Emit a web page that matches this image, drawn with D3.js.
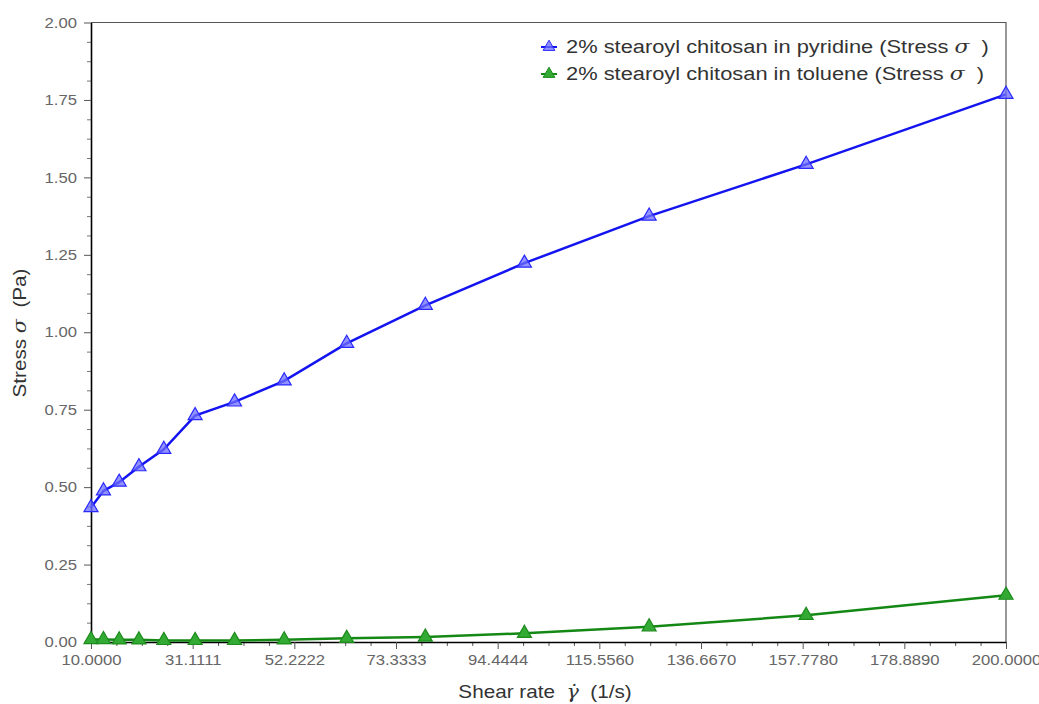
<!DOCTYPE html>
<html>
<head>
<meta charset="utf-8">
<script src="https://cdn.jsdelivr.net/npm/d3@7"></script>
<style>
  html, body { margin: 0; padding: 0; background: #fff; }
  svg { display: block; font-family: "Liberation Sans", Arial, sans-serif; }
</style>
</head>
<body>
<svg id="chart" width="1039" height="704"></svg>
<script>
// shear rate (1/s)
var shearRate = [10, 12.59, 15.85, 19.95, 25.12, 31.62, 39.81, 50.12, 63.10, 79.43, 100, 125.9, 158.5, 200];
// stress (Pa)
var pyridine = [0.434, 0.488, 0.516, 0.566, 0.622, 0.731, 0.775, 0.843, 0.964, 1.087, 1.223, 1.375, 1.542, 1.768];
var toluene  = [0.008, 0.008, 0.007, 0.007, 0.005, 0.005, 0.005, 0.007, 0.012, 0.016, 0.028, 0.049, 0.086, 0.151];

var xTicks = [10, 31.1111, 52.2222, 73.3333, 94.4444, 115.556, 136.667, 157.778, 178.889, 200];
var xTickLabels = ["10.0000", "31.1111", "52.2222", "73.3333", "94.4444", "115.5560", "136.6670", "157.7780", "178.8890", "200.0000"];
var yTicks = [0, 0.25, 0.5, 0.75, 1, 1.25, 1.5, 1.75, 2];
var yTickLabels = ["0.00", "0.25", "0.50", "0.75", "1.00", "1.25", "1.50", "1.75", "2.00"];

var seriesNames = ["2% stearoyl chitosan in pyridine (Stress ", "2% stearoyl chitosan in toluene (Stress "];

(function () {

    var svg = d3.select("#chart");
    var left = 91, right = 1006, top = 22.5, bottom = 642;
    var sx = 1.15; // the original text is drawn a bit wide

    var x = d3.scaleLinear().domain([10, 200]).range([left, right]);
    var y = d3.scaleLinear().domain([0, 2]).range([bottom, top]);

    // minor ticks: 4 sub-intervals between majors
    function minors(ticks) {
        var m = [];
        for (var i = 0; i < ticks.length - 1; i++) {
            var s = (ticks[i + 1] - ticks[i]) / 4;
            for (var k = 1; k < 4; k++) m.push(ticks[i] + k * s);
        }
        return m;
    }

    function sigma(t, ch, pre, post) {
        t.attr("xml:space", "preserve").style("white-space", "pre");
        t.append("tspan").text(pre);
        t.append("tspan").attr("font-family", "DejaVu Serif, serif").attr("font-style", "italic").text(ch);
        t.append("tspan").text(post);
    }

    // frame (top + right in gray)
    svg.append("path")
        .attr("d", "M" + left + "," + top + "H" + right + "V" + bottom)
        .attr("fill", "none")
        .attr("stroke", "#555")
        .attr("stroke-width", 1.2);

    // x axis
    svg.append("g").attr("transform", "translate(0," + bottom + ")")
        .call(d3.axisBottom(x).tickValues(minors(xTicks)).tickSize(4).tickFormat(""))
        .call(function (g) { g.select(".domain").remove(); g.selectAll("line").attr("stroke", "#555"); });
    svg.append("g").attr("transform", "translate(0," + bottom + ")")
        .call(d3.axisBottom(x).tickValues(xTicks).tickSize(7).tickSizeOuter(0).tickPadding(6)
            .tickFormat(function (d, i) { return xTickLabels[i]; }))
        .call(function (g) {
            g.select(".domain").attr("stroke", "#000").attr("stroke-width", 1.6);
            g.selectAll("line").attr("stroke", "#555");
            g.selectAll("text").attr("fill", "#666").attr("font-size", 14.5)
                .attr("transform", "scale(" + sx + ",1)");
        });

    // y axis
    svg.append("g").attr("transform", "translate(" + left + ",0)")
        .call(d3.axisLeft(y).tickValues(minors(yTicks)).tickSize(4).tickFormat(""))
        .call(function (g) { g.select(".domain").remove(); g.selectAll("line").attr("stroke", "#777"); });
    svg.append("g").attr("transform", "translate(" + left + ",0)")
        .call(d3.axisLeft(y).tickValues(yTicks).tickSize(7).tickSizeOuter(0)
            .tickFormat(function (d, i) { return yTickLabels[i]; }))
        .call(function (g) {
            g.select(".domain").attr("stroke", "#000").attr("stroke-width", 1.6);
            g.selectAll("line").attr("stroke", "#555");
            g.selectAll("text").attr("fill", "#666").attr("font-size", 14.5)
                .attr("x", 0)
                .attr("transform", "translate(-14,0) scale(" + sx + ",1)");
        });

    // axis titles
    var yt = svg.append("text")
        .attr("transform", "translate(26,333) rotate(-90) scale(" + sx + ",1)")
        .attr("text-anchor", "middle")
        .attr("fill", "#333")
        .attr("font-size", 18);
    sigma(yt, "\u03c3", "Stress ", "  (Pa)");

    var xt = svg.append("text")
        .attr("transform", "translate(545,698) scale(" + sx + ",1)")
        .attr("text-anchor", "middle")
        .attr("fill", "#333")
        .attr("font-size", 18);
    sigma(xt, "\u03b3\u0307", "Shear rate  ", "  (1/s)");

    var series = [
        { name: seriesNames[0], values: pyridine, line: "#1414f0", fill: "rgba(110,110,255,0.75)", stroke: "#2a2aff" },
        { name: seriesNames[1], values: toluene, line: "#148814", fill: "#33aa33", stroke: "#1c8c1c" }
    ];

    var line = d3.line()
        .x(function (d) { return x(d[0]); })
        .y(function (d) { return y(d[1]); });

    var tri = d3.symbol().type(d3.symbolTriangle).size(85);

    series.forEach(function (s) {
        var pts = shearRate.map(function (r, i) { return [r, s.values[i]]; });

        svg.append("path")
            .datum(pts)
            .attr("d", line)
            .attr("fill", "none")
            .attr("stroke", s.line)
            .attr("stroke-width", 2.5);

        svg.selectAll(null).data(pts).enter().append("path")
            .attr("d", tri)
            .attr("transform", function (d) { return "translate(" + x(d[0]) + "," + y(d[1]) + ")"; })
            .attr("fill", s.fill)
            .attr("stroke", s.stroke)
            .attr("stroke-width", 1.2);
    });

    // legend
    var lg = svg.append("g").attr("transform", "translate(549,47)");
    series.forEach(function (s, i) {
        var row = lg.append("g").attr("transform", "translate(0," + (i * 27) + ")");
        row.append("line")
            .attr("x1", -8).attr("x2", 8)
            .attr("stroke", s.line).attr("stroke-width", 2);
        row.append("path")
            .attr("d", d3.symbol().type(d3.symbolTriangle).size(60))
            .attr("fill", s.fill).attr("stroke", s.stroke);
        var t = row.append("text")
            .attr("transform", "translate(17,6) scale(" + sx + ",1)")
            .attr("fill", "#333")
            .attr("font-size", 19);
        sigma(t, "\u03c3", s.name, "  )");
    });

})();
</script>
</body>
</html>
